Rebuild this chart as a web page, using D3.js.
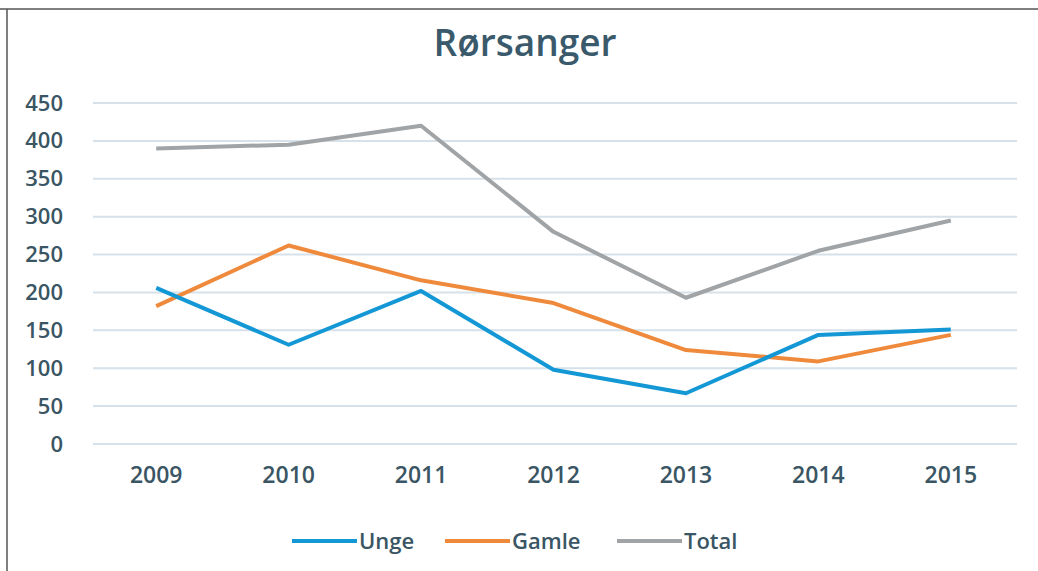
<!DOCTYPE html>
<html>
<head>
<meta charset="utf-8">
<script src="https://cdn.jsdelivr.net/npm/d3@7"></script>
<style>
  body { margin: 0; background: #fff; }
  svg { display: block; font-family: "Open Sans", sans-serif; }
</style>
</head>
<body>
<svg id="chart" width="1038" height="571"></svg>
<script>
// data
var years = ["2009", "2010", "2011", "2012", "2013", "2014", "2015"];
var unge  = [206, 131, 202, 98, 67, 144, 151];
var gamle = [182, 262, 216, 186, 124, 109, 144];
var total = [390, 395, 420, 280, 193, 255, 295];
var seriesNames = ["Unge", "Gamle", "Total"];
var yTicks = [0, 50, 100, 150, 200, 250, 300, 350, 400, 450];

var colours = { Unge: "#1497d5", Gamle: "#ef8a3c", Total: "#a0a4a7" };
var textColour = "#3a5563";

var svg = d3.select("#chart");

// frame lines (top and left edge of the scanned page)
svg.append("line").attr("x1", 0).attr("x2", 1038).attr("y1", 9).attr("y2", 9)
    .attr("stroke", "#555").attr("stroke-width", 1.5);
svg.append("line").attr("x1", 7).attr("x2", 7).attr("y1", 9).attr("y2", 571)
    .attr("stroke", "#555").attr("stroke-width", 1.5);

var x = d3.scaleBand().domain(years).range([90, 1017]);
var y = d3.scaleLinear().domain([0, 450]).range([444, 103]);

//gridlines
svg.append("g").selectAll("line")
    .data(yTicks)
    .enter().append("line")
    .attr("x1", 93).attr("x2", 1017)
    .attr("y1", function (d) { return y(d); })
    .attr("y2", function (d) { return y(d); })
    .attr("stroke", "#d6e1ea").attr("stroke-width", 2);

// y axis labels
var yAxis = d3.axisLeft(y).tickValues(yTicks).tickSize(0).tickPadding(0);
var gy = svg.append("g").attr("transform", "translate(63,0)").call(yAxis);
gy.select(".domain").remove();
gy.selectAll("text").attr("fill", textColour)
    .style("font-size", "22px").style("font-weight", "600").style("font-family", "Open Sans, sans-serif");

// x axis labels
var xAxis = d3.axisBottom(x).tickSize(0).tickPadding(0);
var gx = svg.append("g").attr("transform", "translate(0,467)").call(xAxis);
gx.select(".domain").remove();
gx.selectAll("text").attr("fill", textColour)
    .style("font-size", "23px").style("font-weight", "600").style("font-family", "Open Sans, sans-serif");

// title
svg.append("text")
    .attr("x", 525).attr("y", 56)
    .attr("text-anchor", "middle")
    .attr("fill", "#3a5a6c")
    .style("font-size", "37px")
    .style("font-weight", "600")
    .text("Rørsanger");

// lines
var seriesData = { Unge: unge, Gamle: gamle, Total: total };
var line = d3.line()
    .x(function (d, i) { return x(years[i]) + x.bandwidth() / 2; })
    .y(function (d) { return y(d); });

["Total", "Gamle", "Unge"].forEach(function (name) {
    svg.append("path")
        .datum(seriesData[name])
        .attr("d", line)
        .attr("fill", "none")
        .attr("stroke", colours[name])
        .attr("stroke-width", 4)
        .attr("stroke-linejoin", "round");
});

// legend
var legendX = [292, 445, 617];
var legend = svg.append("g").selectAll("g")
    .data(seriesNames)
    .enter().append("g")
    .attr("transform", function (d, i) { return "translate(" + legendX[i] + ",541)"; });
legend.append("line")
    .attr("x1", 0).attr("x2", 65)
    .attr("stroke", function (d) { return colours[d]; })
    .attr("stroke-width", 4);
legend.append("text")
    .attr("x", 67).attr("dy", "0.35em")
    .attr("fill", textColour)
    .style("font-size", "22px")
    .style("font-weight", "600")
    .text(function (d) { return d; });
</script>
</body>
</html>
